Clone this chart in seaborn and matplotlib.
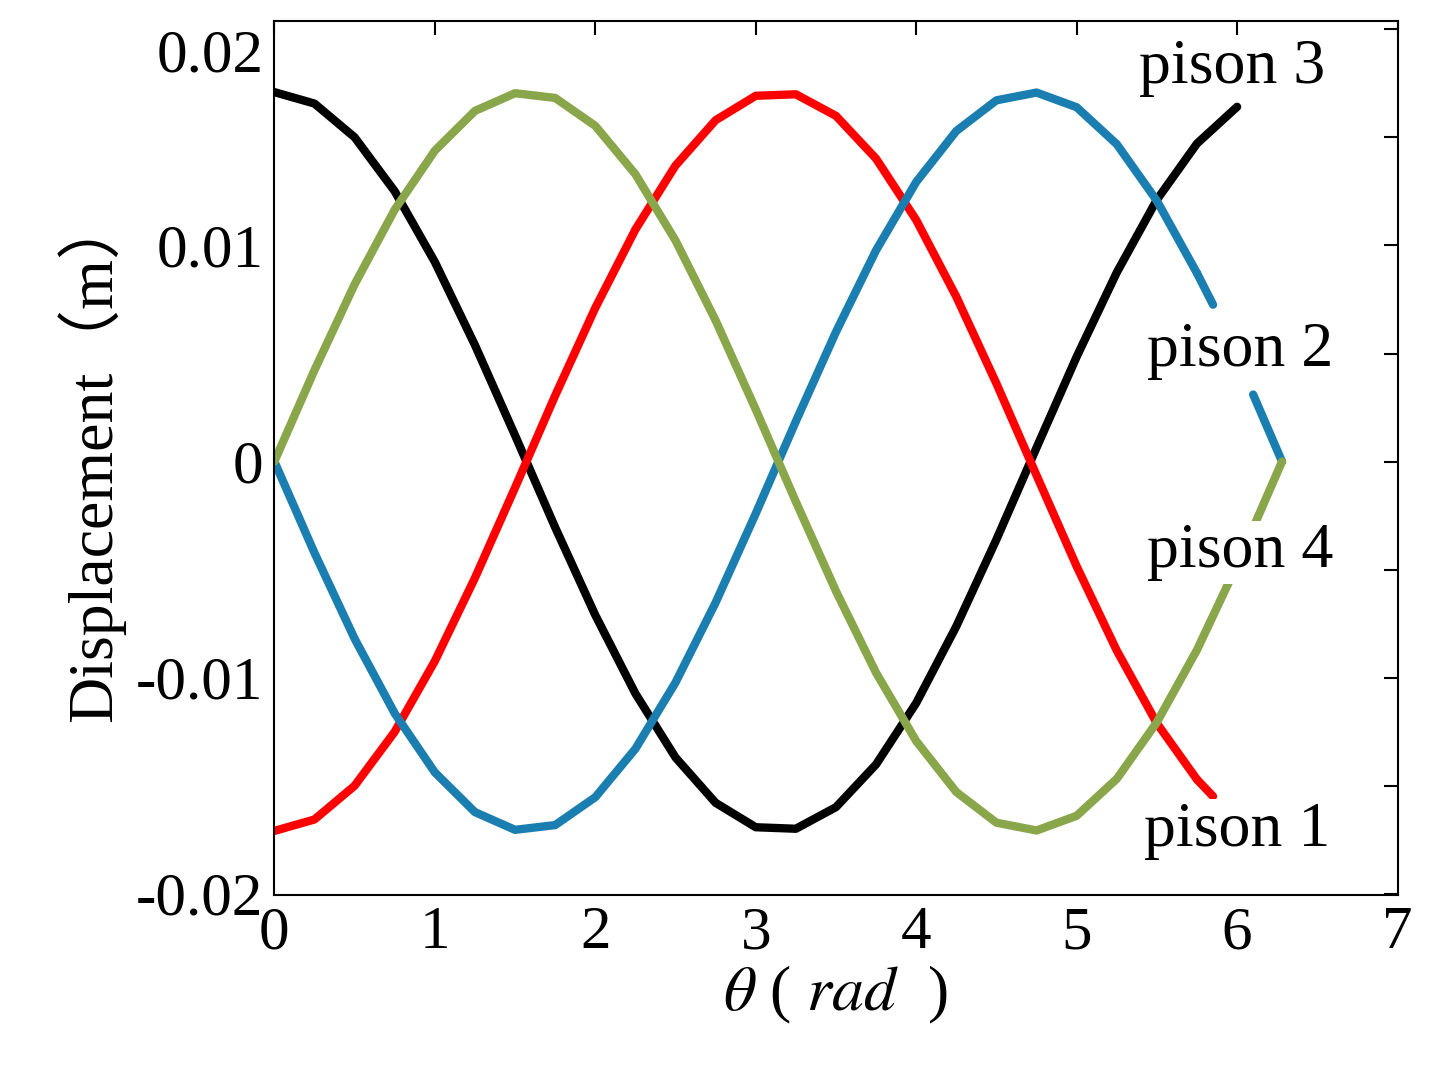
import pandas as pd
import seaborn as sns
import matplotlib.pyplot as plt

# theta values (rad)
theta = [0, 0.25, 0.5, 0.75, 1.0, 1.25, 1.5, 1.75, 2.0, 2.25, 2.5, 2.75, 3.0,
         3.25, 3.5, 3.75, 4.0, 4.25, 4.5, 4.75, 5.0, 5.25, 5.5, 5.75, 6.0]

# displacement (m)
piston_green = [0, 0.00423, 0.00820, 0.01166, 0.01439, 0.01623, 0.01705, 0.01683,
                0.01554, 0.01330, 0.01023, 0.00653, 0.00241, -0.00186, -0.00600,
                -0.00978, -0.01294, -0.01530, -0.01672, -0.01708, -0.01640,
                -0.01469, -0.01207, -0.00872, -0.00478]
piston_black = [0.01710, 0.01657, 0.01501, 0.01251, 0.00924, 0.00539, 0.00121,
                -0.00305, -0.00711, -0.01074, -0.01370, -0.01580, -0.01693,
                -0.01700, -0.01600, -0.01402, -0.01118, -0.00763, -0.00361,
                0.00064, 0.00485, 0.00875, 0.01212, 0.01472, 0.01642]
piston_red = [-v for v in piston_black]
piston_blue = [-v for v in piston_green]

# tails near 2*pi
theta_end = [6.0, 6.28]
green_end = [-0.00478, 0]
red_end_x = [5.75, 5.85]
red_end = [-0.01472, -0.01550]
blue_tail_x = [5.75, 5.85]
blue_tail = [0.00872, 0.00726]

df = pd.DataFrame({"theta": theta, "green": piston_green, "black": piston_black,
                   "red": piston_red, "blue": piston_blue})

sns.set_style("white")
plt.rcParams['font.family'] = ['Liberation Serif', 'Noto Sans CJK SC', 'DejaVu Sans']
plt.rcParams['mathtext.fontset'] = 'stix'
plt.rcParams['text.color'] = 'black'
plt.rcParams['axes.labelcolor'] = 'black'
plt.rcParams['xtick.color'] = 'black'
plt.rcParams['ytick.color'] = 'black'

fig, ax = plt.subplots(figsize=(14.29, 10.74), dpi=100)
fig.subplots_adjust(left=0.192, right=0.978, top=0.98, bottom=0.167)

lw = 6
colors = {"green": "#8aa64a", "black": "black", "red": "#ff0000", "blue": "#1a7fb0"}
sns.lineplot(data=df, x="theta", y="black", color=colors["black"], lw=lw, ax=ax)
sns.lineplot(data=df[df.theta <= 5.75], x="theta", y="red", color=colors["red"], lw=lw, ax=ax)
sns.lineplot(x=red_end_x, y=red_end, color=colors["red"], lw=lw, ax=ax)
sns.lineplot(data=df[df.theta <= 5.75], x="theta", y="blue", color=colors["blue"], lw=lw, ax=ax)
sns.lineplot(x=blue_tail_x, y=blue_tail, color=colors["blue"], lw=lw, ax=ax)
sns.lineplot(x=[6.1, 6.28], y=[0.0031, 0], color=colors["blue"], lw=lw, ax=ax)
sns.lineplot(data=df, x="theta", y="green", color=colors["green"], lw=lw, ax=ax)
sns.lineplot(x=theta_end, y=green_end, color=colors["green"], lw=lw, ax=ax)

labels = [("pison 3", 5.97, 0.0182), ("pison 2", 6.02, 0.0051),
          ("pison 4", 6.02, -0.0042), ("pison 1", 6.0, -0.0171)]
for txt, x, y in labels:
    ax.text(x, y, txt, fontsize=46, ha="center", va="center",
            bbox=dict(facecolor="white", edgecolor="none", pad=2))

ax.set_xlim(0, 7)
ax.set_ylim(-0.02005, 0.02037)
ax.set_xticks(range(0, 8))
ax.set_yticks([-0.02, -0.015, -0.01, -0.005, 0, 0.005, 0.01, 0.015, 0.02])
ax.set_yticklabels(["-0.02", "", "-0.01", "", "0", "", "0.01", "", "0.02"])
ax.tick_params(direction="in", length=10, width=1.5, labelsize=44,
               top=True, right=True, pad=8)
ax.get_yticklabels()[-1].set_va("top")
for s in ax.spines.values():
    s.set_linewidth(1.5)
    s.set_color("black")
ax.set_xlabel(r"$\theta$ ( $rad$  )", fontsize=46, labelpad=2)
ax.set_ylabel("Displacement（m）", fontsize=46, labelpad=8)
plt.savefig("out.png")
